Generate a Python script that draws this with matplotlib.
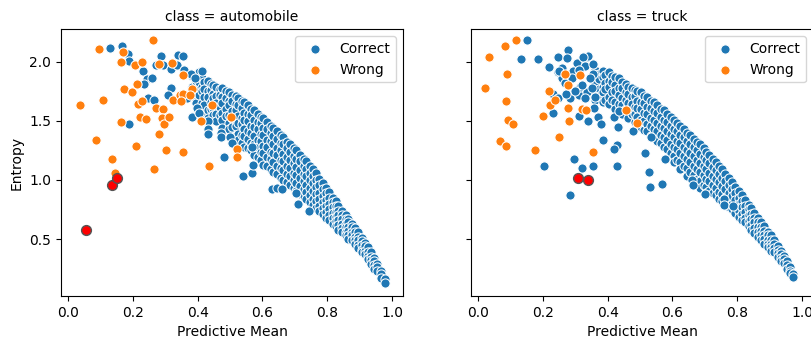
import numpy as np
import matplotlib.pyplot as plt

# ---- automobile panel -------------------------------------------------------
# dense band of correct predictions: (predictive mean, [entropies])
auto_band = [
    (0.383, [1.88, 1.79, 1.71]),
    (0.394, [1.84, 1.77, 1.65]),
    (0.404, [1.91, 1.83, 1.72, 1.61]),
    (0.413, [1.86, 1.79, 1.75, 1.65, 1.57]),
    (0.421, [1.83, 1.77, 1.70, 1.63]),
    (0.432, [1.84, 1.75, 1.70, 1.59, 1.52]),
    (0.441, [1.81, 1.76, 1.66, 1.60]),
    (0.447, [1.80, 1.73, 1.69, 1.61, 1.55]),
    (0.458, [1.79, 1.71, 1.65, 1.56, 1.50]),
    (0.469, [1.77, 1.72, 1.62, 1.55]),
    (0.476, [1.78, 1.70, 1.65, 1.57, 1.51, 1.44]),
    (0.487, [1.75, 1.69, 1.60, 1.54]),
    (0.498, [1.74, 1.67, 1.63, 1.55, 1.48, 1.43]),
    (0.506, [1.72, 1.67, 1.58, 1.52, 1.45]),
    (0.517, [1.71, 1.64, 1.59, 1.51, 1.46, 1.37]),
    (0.524, [1.69, 1.63, 1.54, 1.48, 1.39, 1.34]),
    (0.536, [1.67, 1.61, 1.52, 1.47, 1.38, 1.31]),
    (0.543, [1.66, 1.57, 1.51, 1.43, 1.37, 1.28]),
    (0.555, [1.63, 1.56, 1.50, 1.41, 1.35, 1.27]),
    (0.566, [1.60, 1.55, 1.46, 1.40, 1.31, 1.25]),
    (0.574, [1.59, 1.51, 1.45, 1.37, 1.30, 1.21]),
    (0.585, [1.56, 1.49, 1.43, 1.34, 1.28, 1.19]),
    (0.596, [1.53, 1.48, 1.39, 1.33, 1.24, 1.17]),
    (0.603, [1.52, 1.44, 1.38, 1.29, 1.23, 1.13]),
    (0.615, [1.49, 1.43, 1.34, 1.28, 1.19, 1.12]),
    (0.626, [1.46, 1.40, 1.33, 1.24, 1.18, 1.09]),
    (0.634, [1.44, 1.37, 1.30, 1.23, 1.15, 1.07]),
    (0.645, [1.41, 1.35, 1.27, 1.21, 1.12, 1.05]),
    (0.657, [1.38, 1.31, 1.25, 1.17, 1.10, 1.02]),
    (0.664, [1.36, 1.30, 1.22, 1.16, 1.08, 1.00]),
    (0.676, [1.32, 1.27, 1.19, 1.12, 1.05, 0.98]),
    (0.684, [1.30, 1.24, 1.17, 1.10, 1.03, 0.96]),
    (0.697, [1.27, 1.20, 1.14, 1.06, 1.00, 0.93]),
    (0.705, [1.25, 1.18, 1.11, 1.04, 0.97, 0.91]),
    (0.716, [1.21, 1.16, 1.08, 1.02, 0.95, 0.88]),
    (0.727, [1.18, 1.12, 1.05, 0.99, 0.92, 0.86]),
    (0.735, [1.16, 1.09, 1.03, 0.96, 0.90, 0.84]),
    (0.746, [1.12, 1.06, 1.00, 0.93, 0.87, 0.81]),
    (0.757, [1.09, 1.03, 0.97, 0.91, 0.84, 0.79]),
    (0.766, [1.06, 1.00, 0.94, 0.88, 0.82, 0.76]),
    (0.775, [1.01, 0.96, 0.89, 0.84, 0.78, 0.74]),
    (0.787, [0.97, 0.92, 0.86, 0.81, 0.76, 0.71]),
    (0.796, [0.93, 0.89, 0.83, 0.78, 0.73, 0.68]),
    (0.805, [0.90, 0.85, 0.80, 0.75, 0.70, 0.66]),
    (0.817, [0.85, 0.81, 0.77, 0.72, 0.68, 0.63]),
    (0.826, [0.82, 0.78, 0.73, 0.69, 0.65, 0.61]),
    (0.834, [0.78, 0.74, 0.70, 0.66, 0.62, 0.58]),
    (0.846, [0.74, 0.70, 0.67, 0.63, 0.59, 0.56]),
    (0.857, [0.70, 0.67, 0.63, 0.60, 0.56, 0.53]),
    (0.864, [0.67, 0.64, 0.60, 0.57, 0.53, 0.50]),
    (0.876, [0.63, 0.60, 0.56, 0.53, 0.49]),
    (0.887, [0.59, 0.56, 0.52, 0.49, 0.46]),
    (0.895, [0.56, 0.52, 0.49, 0.45, 0.42]),
    (0.906, [0.51, 0.48, 0.45, 0.41, 0.39]),
    (0.916, [0.47, 0.44, 0.40, 0.37]),
    (0.927, [0.43, 0.39, 0.36, 0.33]),
    (0.935, [0.39, 0.35, 0.32, 0.29]),
    (0.946, [0.34, 0.31, 0.28, 0.25]),
    (0.955, [0.29, 0.26, 0.23]),
    (0.966, [0.23, 0.20, 0.17]),
    (0.977, [0.16, 0.13]),
]
auto_correct_x = [0.128, 0.165, 0.186, 0.187, 0.230, 0.243, 0.258, 0.233, 0.248, 0.265,
                  0.189, 0.288, 0.270, 0.294, 0.317, 0.335, 0.340, 0.354, 0.317, 0.308,
                  0.358, 0.379, 0.412, 0.392, 0.366, 0.382, 0.397, 0.405, 0.433, 0.433,
                  0.433, 0.471, 0.471, 0.481, 0.500, 0.507, 0.541, 0.568, 0.572, 0.567,
                  0.630, 0.645, 0.660, 0.703, 0.709, 0.745]
auto_correct_y = [2.12, 2.13, 2.065, 2.01, 1.92, 1.85, 1.86, 1.81, 1.69, 1.68,
                  1.47, 2.05, 1.97, 1.97, 1.94, 1.97, 2.06, 2.05, 1.78, 1.72,
                  1.93, 1.90, 1.92, 1.86, 1.69, 1.53, 1.61, 1.57, 1.50, 1.43,
                  1.39, 1.40, 1.365, 1.19, 1.365, 1.31, 1.03, 1.055, 1.13, 1.28,
                  0.92, 0.93, 0.92, 0.89, 0.80, 0.74]
auto_wrong_x = [0.037, 0.094, 0.109, 0.085, 0.135, 0.145, 0.169, 0.163, 0.174, 0.164,
                0.198, 0.205, 0.212, 0.216, 0.229, 0.227, 0.222, 0.240, 0.211, 0.263,
                0.280, 0.270, 0.292, 0.290, 0.295, 0.310, 0.280, 0.303, 0.266, 0.321,
                0.323, 0.346, 0.355, 0.350, 0.354, 0.382, 0.377, 0.356, 0.410, 0.443,
                0.436, 0.503, 0.523, 0.523]
auto_wrong_y = [1.63, 2.11, 1.68, 1.34, 1.18, 1.06, 2.085, 2.00, 1.77, 1.49,
                1.74, 1.97, 1.81, 1.64, 2.00, 1.67, 1.53, 1.515, 1.29, 2.18,
                1.98, 1.61, 1.60, 1.52, 1.47, 1.53, 1.39, 1.25, 1.09, 1.99,
                1.68, 1.72, 1.73, 1.67, 1.89, 1.77, 1.72, 1.24, 1.50, 1.63,
                1.12, 1.535, 1.26, 1.19]
auto_marked_x = [0.056, 0.135, 0.152]
auto_marked_y = [0.58, 0.957, 1.02]

# ---- truck panel ------------------------------------------------------------
truck_band = [
    (0.362, [1.93, 1.86, 1.81, 1.73, 1.68]),
    (0.373, [1.90, 1.85, 1.77, 1.71]),
    (0.384, [1.92, 1.87, 1.79, 1.74, 1.66]),
    (0.392, [1.89, 1.82, 1.77, 1.68]),
    (0.403, [1.91, 1.84, 1.79, 1.70, 1.64]),
    (0.414, [1.88, 1.83, 1.74, 1.68]),
    (0.422, [1.87, 1.80, 1.75, 1.66, 1.60]),
    (0.434, [1.86, 1.78, 1.72, 1.64]),
    (0.443, [1.83, 1.78, 1.69, 1.63, 1.56]),
    (0.455, [1.81, 1.74, 1.68, 1.60]),
    (0.462, [1.79, 1.73, 1.65, 1.59, 1.52]),
    (0.474, [1.78, 1.70, 1.64, 1.56]),
    (0.483, [1.76, 1.71, 1.62, 1.56, 1.49]),
    (0.491, [1.75, 1.67, 1.61, 1.53]),
    (0.504, [1.74, 1.66, 1.60, 1.51, 1.45]),
    (0.513, [1.71, 1.65, 1.57, 1.50, 1.42]),
    (0.522, [1.70, 1.62, 1.56, 1.47, 1.41]),
    (0.534, [1.67, 1.61, 1.52, 1.46, 1.37]),
    (0.543, [1.66, 1.58, 1.51, 1.43, 1.36]),
    (0.552, [1.63, 1.57, 1.48, 1.41, 1.33]),
    (0.564, [1.60, 1.53, 1.46, 1.38, 1.31]),
    (0.575, [1.59, 1.51, 1.44, 1.36, 1.28]),
    (0.583, [1.56, 1.49, 1.41, 1.34, 1.26]),
    (0.594, [1.53, 1.46, 1.39, 1.30, 1.23]),
    (0.606, [1.51, 1.43, 1.36, 1.28, 1.20, 1.15]),
    (0.613, [1.48, 1.41, 1.33, 1.26, 1.17]),
    (0.624, [1.46, 1.38, 1.31, 1.23, 1.15, 1.09]),
    (0.636, [1.43, 1.36, 1.28, 1.20, 1.12]),
    (0.645, [1.40, 1.33, 1.25, 1.18, 1.10, 1.03]),
    (0.653, [1.38, 1.30, 1.23, 1.15, 1.07]),
    (0.665, [1.35, 1.28, 1.20, 1.12, 1.04, 0.99]),
    (0.676, [1.32, 1.25, 1.17, 1.09, 1.01]),
    (0.684, [1.30, 1.22, 1.14, 1.07, 0.99, 0.93]),
    (0.696, [1.27, 1.19, 1.12, 1.04, 0.96]),
    (0.705, [1.24, 1.17, 1.09, 1.01, 0.94, 0.89]),
    (0.714, [1.21, 1.14, 1.06, 0.99, 0.91]),
    (0.726, [1.18, 1.11, 1.03, 0.96, 0.89]),
    (0.733, [1.15, 1.08, 1.01, 0.93, 0.87]),
    (0.745, [1.12, 1.05, 0.98, 0.90, 0.84]),
    (0.754, [1.09, 1.02, 0.95, 0.88, 0.82]),
    (0.763, [1.05, 0.99, 0.92, 0.85, 0.80]),
    (0.775, [1.02, 0.96, 0.89, 0.83, 0.77]),
    (0.784, [0.98, 0.92, 0.86, 0.80, 0.75]),
    (0.793, [0.94, 0.89, 0.83, 0.77, 0.72]),
    (0.805, [0.91, 0.85, 0.80, 0.74, 0.69]),
    (0.814, [0.87, 0.82, 0.77, 0.71, 0.66]),
    (0.823, [0.83, 0.78, 0.73, 0.68, 0.64]),
    (0.835, [0.79, 0.75, 0.70, 0.65, 0.61]),
    (0.844, [0.76, 0.71, 0.67, 0.62, 0.58]),
    (0.853, [0.72, 0.68, 0.64, 0.59, 0.55]),
    (0.865, [0.68, 0.64, 0.60, 0.56, 0.52]),
    (0.874, [0.64, 0.60, 0.57, 0.53, 0.49]),
    (0.883, [0.61, 0.57, 0.53, 0.50, 0.46]),
    (0.895, [0.56, 0.53, 0.49, 0.46, 0.43]),
    (0.904, [0.53, 0.49, 0.46, 0.43, 0.40]),
    (0.913, [0.49, 0.46, 0.42, 0.39]),
    (0.925, [0.44, 0.41, 0.38, 0.35]),
    (0.934, [0.40, 0.37, 0.34, 0.31]),
    (0.943, [0.36, 0.33, 0.30]),
    (0.955, [0.31, 0.28, 0.25]),
    (0.963, [0.26, 0.23, 0.21]),
    (0.972, [0.20, 0.18]),
]
truck_correct_x = [0.150, 0.132, 0.185, 0.219, 0.276, 0.246, 0.274, 0.305, 0.335, 0.340,
                   0.245, 0.258, 0.267, 0.232, 0.248, 0.284, 0.310, 0.232, 0.310, 0.340,
                   0.371, 0.385, 0.428, 0.433, 0.418, 0.296, 0.204, 0.320, 0.354, 0.428,
                   0.285, 0.294, 0.325, 0.330, 0.356, 0.313, 0.335, 0.361, 0.358, 0.378,
                   0.420, 0.436, 0.477, 0.515, 0.529, 0.531, 0.569, 0.533, 0.577, 0.660,
                   0.663, 0.700, 0.758, 0.760, 0.786, 0.260, 0.290, 0.312, 0.320, 0.345,
                   0.350, 0.300, 0.270, 0.330, 0.355, 0.250]
truck_correct_y = [2.18, 2.02, 2.02, 1.955, 2.10, 2.04, 2.03, 1.99, 2.04, 2.05,
                   1.91, 1.86, 1.82, 1.727, 1.69, 1.69, 1.72, 1.57, 1.54, 1.50,
                   1.53, 1.34, 1.295, 1.45, 1.535, 1.175, 1.12, 1.10, 1.12, 1.12,
                   0.87, 1.92, 2.04, 1.96, 1.90, 1.79, 1.74, 1.70, 1.61, 1.47,
                   1.26, 1.58, 1.41, 1.23, 1.07, 0.94, 0.965, 1.36, 1.18, 1.00,
                   0.96, 0.88, 0.84, 0.79, 0.78, 1.95, 1.86, 1.93, 1.80, 1.86,
                   1.78, 1.75, 1.73, 1.69, 1.98, 1.92]
truck_wrong_x = [0.022, 0.032, 0.083, 0.117, 0.090, 0.086, 0.092, 0.109, 0.068, 0.086,
                 0.176, 0.200, 0.219, 0.222, 0.251, 0.269, 0.276, 0.276, 0.279, 0.320,
                 0.333, 0.354, 0.457, 0.490, 0.238, 0.315]
truck_wrong_y = [1.775, 2.04, 2.13, 2.18, 1.90, 1.67, 1.51, 1.47, 1.33, 1.29,
                 1.25, 1.54, 1.75, 1.63, 1.36, 1.90, 1.80, 1.61, 1.50, 1.60,
                 1.59, 1.24, 1.59, 1.48, 1.68, 1.89]
truck_marked_x = [0.308, 0.340]
truck_marked_y = [1.02, 0.996]

BLUE = '#1f77b4'
ORANGE = '#ff7f0e'


def flatten_band(band):
    xs, ys = [], []
    for x, col in band:
        for y in col:
            xs.append(x)
            ys.append(y)
    return xs, ys


def draw_panel(ax, band, cx, cy, wx, wy, mx, my, title):
    bx, by = flatten_band(band)
    kw = dict(s=44, edgecolors='white', linewidths=0.75)
    ax.scatter(bx + cx, by + cy, color=BLUE, label='Correct', **kw)
    ax.scatter(wx, wy, color=ORANGE, label='Wrong', **kw)
    ax.scatter(mx, my, color='red', s=50, edgecolors='#555555', linewidths=1.0, zorder=3)
    ax.set_title(title, fontsize=10)
    ax.set_xlabel('Predictive Mean')
    ax.set_xlim(-0.022, 1.034)
    ax.set_ylim(0.018, 2.274)
    ax.set_xticks([0.0, 0.2, 0.4, 0.6, 0.8, 1.0])
    ax.set_yticks([0.5, 1.0, 1.5, 2.0])
    ax.legend(loc='upper right')


fig = plt.figure(figsize=(8.11, 3.40), dpi=100)
ax1 = fig.add_axes([0.0752, 0.1294, 0.4217, 0.7844])
ax2 = fig.add_axes([0.5808, 0.1294, 0.4217, 0.7844])

draw_panel(ax1, auto_band, auto_correct_x, auto_correct_y, auto_wrong_x, auto_wrong_y,
           auto_marked_x, auto_marked_y, 'class = automobile')
draw_panel(ax2, truck_band, truck_correct_x, truck_correct_y, truck_wrong_x, truck_wrong_y,
           truck_marked_x, truck_marked_y, 'class = truck')
ax1.set_ylabel('Entropy')
ax2.tick_params(labelleft=False)

fig.savefig('out.png', dpi=100)
